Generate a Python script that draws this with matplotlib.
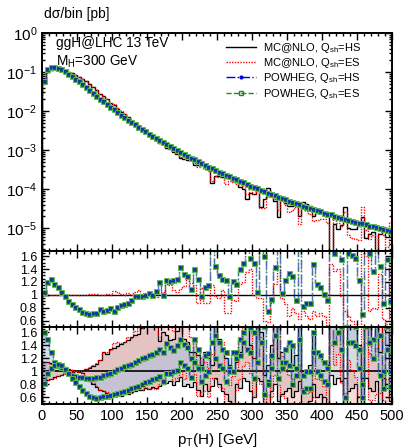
import numpy as np
import matplotlib
matplotlib.use('Agg')
import matplotlib.pyplot as plt
from matplotlib.lines import Line2D
from matplotlib.ticker import MultipleLocator, FuncFormatter, LogLocator, NullFormatter

plt.rcParams['font.family'] = ['Liberation Sans', 'DejaVu Sans']
plt.rcParams['mathtext.fontset'] = 'custom'
plt.rcParams['mathtext.rm'] = 'Liberation Sans'
plt.rcParams['mathtext.it'] = 'Liberation Sans:italic'
plt.rcParams['mathtext.default'] = 'regular'

# 5 GeV bins from 0 to 500 GeV
bin_edges = np.linspace(0, 500, 101)

# POWHEG dsigma/bin [pb]
pw_hs = [
    6.03e-2, 1.20e-1, 1.38e-1, 1.38e-1, 1.29e-1, 1.17e-1, 1.05e-1, 9.12e-2, 7.94e-2, 6.76e-2,
    5.75e-2, 4.90e-2, 4.12e-2, 3.47e-2, 2.92e-2, 2.45e-2, 2.09e-2, 1.78e-2, 1.51e-2, 1.29e-2,
    1.10e-2, 9.44e-3, 8.13e-3, 7.00e-3, 6.03e-3, 5.25e-3, 4.57e-3, 3.98e-3, 3.47e-3, 3.02e-3,
    2.63e-3, 2.32e-3, 2.04e-3, 1.80e-3, 1.58e-3, 1.41e-3, 1.26e-3, 1.12e-3, 1.00e-3, 8.91e-4,
    7.94e-4, 7.08e-4, 6.46e-4, 5.75e-4, 5.25e-4, 4.68e-4, 4.27e-4, 3.80e-4, 3.47e-4, 3.16e-4,
    2.82e-4, 2.57e-4, 2.34e-4, 2.14e-4, 1.95e-4, 1.78e-4, 1.62e-4, 1.48e-4, 1.35e-4, 1.23e-4,
    1.12e-4, 1.05e-4, 9.55e-5, 8.71e-5, 8.13e-5, 7.41e-5, 6.92e-5, 6.31e-5, 5.89e-5, 5.50e-5,
    5.01e-5, 4.68e-5, 4.37e-5, 4.07e-5, 3.80e-5, 3.55e-5, 3.31e-5, 3.09e-5, 2.88e-5, 2.69e-5,
    2.51e-5, 2.34e-5, 2.24e-5, 2.09e-5, 1.95e-5, 1.86e-5, 1.74e-5, 1.66e-5, 1.55e-5, 1.48e-5,
    1.38e-5, 1.32e-5, 1.26e-5, 1.17e-5, 1.12e-5, 1.07e-5, 1.00e-5, 9.55e-6, 9.12e-6, 8.71e-6,
]
pw_es = pw_hs

# ratio POWHEG / MC@NLO(HS)  (middle panel, values above 1.7 are off scale)
pw_ratio = [
    1.05, 1.2, 1.24, 1.175, 1.115, 1.05, 0.975, 0.9, 0.85, 0.815,
    0.775, 0.74, 0.715, 0.7, 0.715, 0.725, 0.775, 0.75, 0.76, 0.8,
    0.75, 0.815, 0.835, 0.85, 0.875, 0.925, 0.975, 0.985, 0.975, 1.0,
    1.025, 1.0, 1.06, 1.2, 1.0, 1.225, 1.215, 1.225, 1.25, 1.425,
    1.325, 1.285, 1.085, 1.4, 1.25, 0.975, 1.125, 1.15, 2.4, 1.45,
    1.3, 1.25, 1.225, 0.975, 1.215, 1.175, 1.4, 1.5, 2.4, 1.575,
    1.5, 1.05, 2.7, 1.6, 0.75, 0.935, 1.425, 3.2, 1.035, 1.225,
    1.335, 1.285, 0.925, 2.0, 0.825, 0.875, 0.875, 1.475, 1.175, 1.115,
    1.015, 0.925, 40.0, 1.65, 2.0, 1.55, 0.5, 1.65, 1.625, 1.575,
    1.225, 0.7, 2.2, 1.65, 1.375, 40.0, 1.45, 0.875, 1.55, 0.9,
]

# ratio MC@NLO(ES) / MC@NLO(HS)
es_ratio = [
    0.99, 1.0, 0.99, 0.99, 1.0, 1.0, 0.99, 0.99, 1.0, 1.0,
    1.0, 1.0, 1.0, 1.01, 1.01, 1.02, 1.0, 1.0, 1.02, 0.99,
    1.06, 1.04, 1.01, 1.0, 1.03, 0.99, 1.04, 1.08, 1.0, 1.03,
    1.0, 0.99, 0.97, 1.04, 1.05, 1.17, 1.15, 1.08, 1.05, 1.09,
    1.13, 1.3, 1.18, 1.15, 0.875, 1.1, 0.875, 0.875, 1.15, 0.975,
    0.95, 1.075, 0.725, 0.725, 0.925, 0.9, 1.175, 1.2, 1.35, 1.4,
    1.0, 0.95, 0.95, 0.6, 0.575, 0.875, 1.175, 1.45, 0.95, 0.85,
    0.675, 0.8, 0.725, 0.625, 0.75, 0.675, 0.625, 0.75, 0.675, 0.725,
    0.675, 0.525, 1.475, 1.375, 1.4, 0.975, 0.75, 0.675, 0.6, 0.55,
    0.45, 1.9, 1.6, 0.75, 0.8, 0.775, 1.325, 0.625, 0.55, 1.5,
]

# scale-variation envelopes normalised to MC@NLO(HS) (bottom panel)
mc_up = [
    1.15, 1.14, 1.13, 1.12, 1.1, 1.08, 1.06, 1.04, 1.02, 1.01,
    1.0, 1.01, 1.03, 1.05, 1.08, 1.11, 1.17, 1.29, 1.27, 1.34,
    1.36, 1.39, 1.42, 1.45, 1.48, 1.52, 1.55, 1.57, 1.67, 1.75,
    1.75, 1.72, 1.75, 1.47, 1.6, 1.55, 1.48, 1.5, 1.62, 1.68,
    1.5, 1.45, 1.3, 1.3, 1.25, 1.1, 1.3, 1.2, 1.1, 1.75,
    1.5, 1.35, 1.2, 1.1, 1.0, 1.15, 1.3, 1.6, 1.75, 1.4,
    1.2, 1.75, 1.6, 0.95, 1.1, 1.4, 1.75, 1.2, 1.3, 1.35,
    1.4, 1.1, 1.25, 1.75, 1.0, 1.0, 1.1, 1.6, 1.3, 1.2,
    1.15, 1.1, 1.75, 1.75, 1.75, 1.7, 0.9, 1.75, 1.7, 1.65,
    1.4, 0.9, 1.75, 1.7, 1.5, 1.75, 1.3, 1.75, 1.6, 1.1,
]
mc_dn = [
    0.86, 0.87, 0.89, 0.91, 0.93, 0.95, 0.97, 0.98, 0.99, 1.0,
    0.99, 0.97, 0.92, 0.86, 0.81, 0.76, 0.72, 0.7, 0.67, 0.65,
    0.63, 0.64, 0.63, 0.65, 0.66, 0.68, 0.7, 0.71, 0.72, 0.74,
    0.73, 0.76, 0.75, 0.77, 0.8, 0.82, 0.86, 0.79, 0.85, 0.92,
    0.78, 0.8, 0.76, 0.84, 0.72, 0.62, 0.8, 0.7, 0.78, 0.9,
    0.8, 0.7, 0.65, 0.55, 0.45, 0.8, 0.75, 0.9, 0.85, 0.7,
    0.6, 0.9, 0.85, 0.45, 0.5, 0.7, 0.8, 0.55, 0.65, 0.7,
    0.75, 0.6, 0.7, 0.85, 0.45, 0.5, 0.55, 0.8, 0.6, 0.65,
    0.6, 0.5, 0.95, 0.8, 0.9, 0.85, 0.45, 0.7, 0.75, 0.8,
    0.6, 0.45, 0.9, 0.75, 0.7, 0.85, 0.5, 0.9, 0.75, 0.55,
]
pw_up = [
    1.6, 1.5, 1.3, 1.15, 1.1, 1.06, 1.02, 0.98, 0.95, 0.93,
    0.92, 0.91, 0.9, 0.9, 0.9, 0.91, 0.92, 0.94, 0.96, 0.98,
    1.0, 1.03, 1.05, 1.08, 1.1, 1.12, 1.14, 1.17, 1.2, 1.22,
    1.25, 1.27, 1.3, 1.34, 1.3, 1.44, 1.38, 1.33, 1.4, 1.5,
    1.42, 1.38, 1.2, 1.5, 1.35, 1.05, 1.25, 1.28, 1.75, 1.55,
    1.45, 1.35, 1.3, 1.05, 1.3, 1.3, 1.5, 1.6, 1.75, 1.68,
    1.6, 1.15, 1.75, 1.7, 0.85, 1.05, 1.55, 1.75, 1.15, 1.35,
    1.45, 1.4, 1.05, 1.75, 0.95, 1.0, 1.0, 1.6, 1.3, 1.25,
    1.15, 1.05, 1.75, 1.75, 1.75, 1.7, 0.6, 1.75, 1.75, 1.7,
    1.35, 0.8, 1.75, 1.75, 1.5, 1.75, 1.55, 1.0, 1.7, 1.0,
]
pw_dn = [
    0.82, 0.98, 1.05, 1.1, 1.12, 1.1, 1.04, 0.97, 0.9, 0.84,
    0.78, 0.72, 0.67, 0.63, 0.6, 0.59, 0.6, 0.62, 0.63, 0.64,
    0.65, 0.67, 0.68, 0.7, 0.72, 0.74, 0.76, 0.78, 0.8, 0.83,
    0.85, 0.88, 0.9, 0.93, 0.85, 0.98, 0.97, 1.0, 1.02, 1.15,
    1.1, 1.05, 0.92, 1.15, 1.05, 0.85, 0.95, 1.0, 1.45, 1.2,
    1.1, 1.05, 0.85, 1.0, 1.0, 1.2, 1.25, 1.45, 1.35, 1.3,
    0.9, 1.75, 1.45, 0.65, 0.8, 1.25, 1.75, 0.9, 1.05, 1.15,
    1.1, 0.8, 0.95, 1.5, 0.7, 0.75, 0.75, 1.3, 1.0, 0.95,
    0.85, 0.8, 1.75, 1.45, 1.6, 1.35, 0.45, 1.45, 1.45, 1.4,
    1.05, 0.6, 1.7, 1.45, 1.2, 1.75, 0.95, 0.75, 1.35, 0.78,
]

labels = ['MC@NLO, Q$_{sh}$=HS', 'MC@NLO, Q$_{sh}$=ES',
          'POWHEG, Q$_{sh}$=HS', 'POWHEG, Q$_{sh}$=ES']

centers = 0.5 * (bin_edges[1:] + bin_edges[:-1])
pw_hs = np.array(pw_hs)
pw_es = np.array(pw_es)
pw_ratio = np.array(pw_ratio)
es_ratio = np.array(es_ratio)
mc_hs = pw_hs / pw_ratio
mc_es = mc_hs * es_ratio
ones = np.ones_like(centers)

BLUE = '#0000ee'
GREEN = '#1f8a1f'
RED = '#ff0000'


def powheg_lines(ax, vals):
    ax.stairs(vals, bin_edges, color=BLUE, lw=1.0, ls='-.', alpha=0.6)
    ax.stairs(vals, bin_edges, color=GREEN, lw=1.0, ls='--', alpha=0.5)
    ax.plot(centers, vals, ls='none', marker='s', ms=3.6, mfc='#1e6e1e',
            mec='#5cb85c', mew=0.7)
    ax.plot(centers, vals, ls='none', marker='o', ms=1.2, color='#1030c0')


def style(ax):
    ax.tick_params(which='both', direction='in', top=True, right=True,
                   width=1.0, labelsize=9)
    ax.tick_params(which='major', length=5)
    ax.tick_params(which='minor', length=2.5)
    for s in ax.spines.values():
        s.set_linewidth(1.4)
    ax.set_xlim(0, 500)
    ax.xaxis.set_major_locator(MultipleLocator(50))
    ax.xaxis.set_minor_locator(MultipleLocator(10))


fig = plt.figure(figsize=(4.08, 4.48), dpi=100)
L, W = 42 / 408, 350 / 408
ax1 = fig.add_axes([L, 1 - 251 / 448, W, 218 / 448])
ax2 = fig.add_axes([L, 1 - 327 / 448, W, 76 / 448])
ax3 = fig.add_axes([L, 1 - 404 / 448, W, 77 / 448])

# top panel
ax1.set_yscale('log')
ax1.stairs(mc_hs, bin_edges, color='k', lw=1.0)
ax1.stairs(mc_es, bin_edges, color=RED, lw=1.0, ls=(0, (1, 1)))
powheg_lines(ax1, pw_hs)
ax1.set_ylim(2.6e-6, 1.0)
style(ax1)
ax1.yaxis.set_major_locator(LogLocator(base=10, numticks=10))
ax1.yaxis.set_minor_locator(LogLocator(base=10, subs=np.arange(2, 10), numticks=20))
ax1.yaxis.set_minor_formatter(NullFormatter())
ax1.tick_params(labelbottom=False, labelsize=11)
ax1.text(0.04, 0.955, 'ggH@LHC 13 TeV', transform=ax1.transAxes,
         fontsize=9.8, va='center')
ax1.text(0.04, 0.87, 'M$_H$=300 GeV', transform=ax1.transAxes,
         fontsize=9.8, va='center')
fig.text(L + 0.005, 1 - 14 / 448, 'd\u03c3/bin [pb]', fontsize=10, va='center')

handles = [
    Line2D([], [], color='k', lw=1.0),
    Line2D([], [], color=RED, lw=1.0, ls=(0, (1, 1))),
    Line2D([], [], color=BLUE, lw=1.0, ls='-.', marker='o', ms=2),
    Line2D([], [], color=GREEN, lw=1.0, ls='--', marker='s', ms=3, mfc='none'),
]
ax1.legend(handles, labels, loc='upper left', bbox_to_anchor=(0.52, 0.975),
           frameon=False, fontsize=8, handlelength=2.7, handletextpad=0.6,
           labelspacing=0.12, borderpad=0.2, borderaxespad=0)

# middle panel: ratios to MC@NLO HS
ax2.stairs(ones, bin_edges, color='k', lw=1.0)
ax2.stairs(es_ratio, bin_edges, color=RED, lw=1.0, ls=(0, (1, 1)))
powheg_lines(ax2, pw_ratio)

# bottom panel: uncertainty envelopes
ax3.stairs(mc_up, bin_edges, baseline=mc_dn, fill=True, color='#9a9a9a', alpha=0.35, lw=0)
ax3.stairs(mc_up * es_ratio, bin_edges, baseline=mc_dn * es_ratio, fill=True,
           color='#f4a0a0', alpha=0.4, lw=0)
ax3.stairs(pw_up, bin_edges, baseline=pw_dn, fill=True, color='#a9c0e4', alpha=0.5, lw=0)
ax3.stairs(ones, bin_edges, color='k', lw=1.2)
for band in (mc_up, mc_dn):
    ax3.stairs(band, bin_edges, color='k', lw=0.9)
for band in (np.array(mc_up) * es_ratio, np.array(mc_dn) * es_ratio):
    ax3.stairs(band, bin_edges, color=RED, lw=0.9, ls=(0, (1, 1)))
for band in (pw_up, pw_dn):
    powheg_lines(ax3, band)

for ax in (ax2, ax3):
    style(ax)
    ax.set_ylim(0.5, 1.68)
    ax.set_yticks([0.6, 0.8, 1.0, 1.2, 1.4, 1.6])
    ax.yaxis.set_major_formatter(FuncFormatter(lambda v, p: '%g' % v))
    ax.yaxis.set_minor_locator(MultipleLocator(0.05))
ax2.tick_params(labelbottom=False)
ax3.tick_params(axis='x', labelsize=10.5)
ax3.set_xlabel('p$_T$(H) [GeV]', fontsize=11, labelpad=6)

fig.savefig('out.png', dpi=100)
